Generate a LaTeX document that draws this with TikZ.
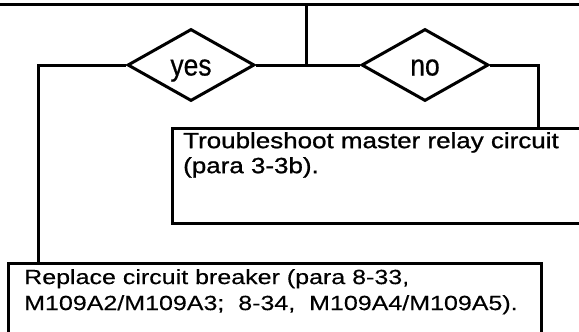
\documentclass[tikz,border=0pt]{standalone}
\usepackage{fontspec}
\setmainfont{Liberation Sans}
\newfontfamily\stepfont[FakeStretch=1.22,FakeBold=0.3]{Liberation Sans}
\newfontfamily\actfont[FakeStretch=1.18,FakeBold=1]{Liberation Sans}
\newfontfamily\decfont[FakeStretch=0.88,FakeBold=0.6]{Liberation Sans}
\usetikzlibrary{positioning,shapes.geometric}
\tikzset{
  flow/.style={line width=3pt},
  dec/.style={diamond,draw,line width=3pt,inner sep=0pt,
    minimum width=127pt,minimum height=72pt,text height=21pt,text depth=0pt,
    font=\decfont\fontsize{30}{30}\selectfont},
  actbox/.style={draw,line width=3pt,anchor=north west,inner sep=0pt},
  acttxt/.style={anchor=north west,align=left,inner sep=0pt},
}

\begin{document}
\begin{tikzpicture}[x=1pt,y=-1pt]
  \useasboundingbox (0,0) rectangle (579,332);
  % feed line and the two branches
  \coordinate (topL) at (0,4);
  \coordinate (topR) at (579,4);
  \coordinate (feed) at (306,4);
  \node[dec] (yes) at (191,65) {yes};
  \node[dec] (no) at (425,65) {no};
  % action boxes
  \node[actbox,minimum width=440pt,minimum height=95pt] (relay) at (171,127) {};
  \node[acttxt,font=\actfont\fontsize{22}{25}\selectfont] (relaytxt)
    at ([xshift=12pt,yshift=-5pt]relay.north west)
    {Troubleshoot master relay circuit\\(para 3-3b).};
  \node[actbox,minimum width=533pt,minimum height=100pt] (brk) at (7,262) {};
  \node[acttxt,font=\stepfont\fontsize{20.5}{26}\selectfont] (brktxt)
    at ([xshift=17pt,yshift=-7pt]brk.north west)
    {Replace circuit breaker (para 8-33,\\M109A2/M109A3;\ \ 8-34,\ \ M109A4/M109A5).};
  % connectors
  \draw[flow] (topL) -- (topR);
  \draw[flow] (feed) -- (feed |- yes.east);
  \draw[flow] (yes.east) -- (no.west);
  \draw[flow] (yes.west) -| ([xshift=31pt]brk.north west);
  \draw[flow] (no.east) -| ([xshift=367pt]relay.north west);
\end{tikzpicture}
\end{document}
